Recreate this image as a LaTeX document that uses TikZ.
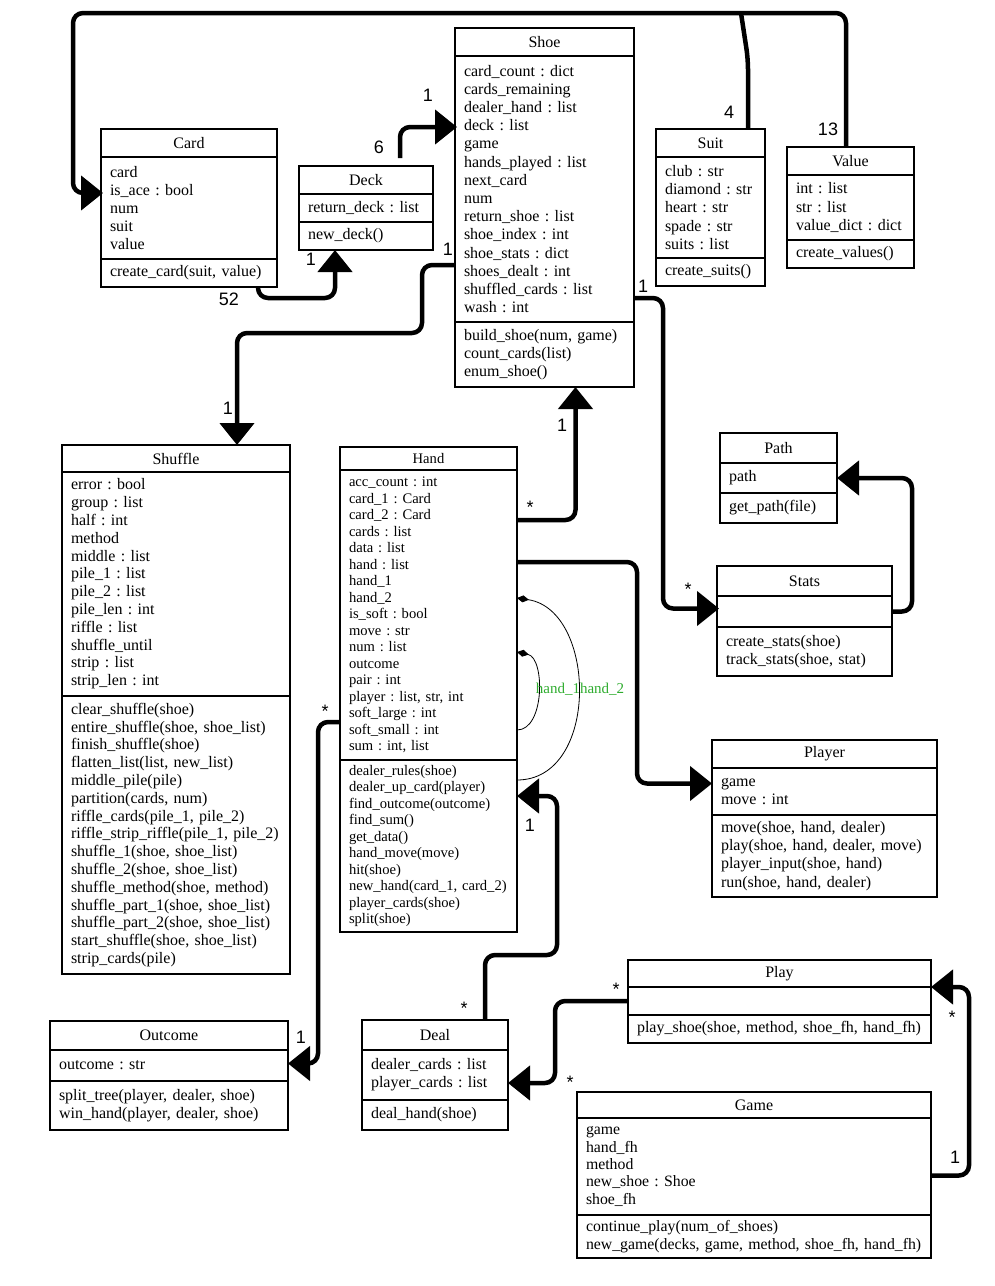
\documentclass[tikz,border=0pt]{standalone}
\usepackage{fontspec}
\setmainfont{Liberation Serif}
\newfontfamily\multfont{Liberation Sans}
\usetikzlibrary{arrows.meta,positioning,calc}
\definecolor{labelgreen}{RGB}{46,172,46}
\frenchspacing

\begin{document}
\begin{tikzpicture}[x=1pt, y=-1pt,
  clsbox/.style={draw, line width=1.2pt, outer sep=0pt, inner xsep=9pt, inner ysep=0pt,
                 font=\fontsize{16}{18.2}\selectfont},
  ctitle/.style={clsbox, align=center, minimum height=28pt},
  cpart/.style={clsbox, align=left},
  handfont/.style={font=\fontsize{14.6}{16.5}\selectfont},
  assoc/.style={line width=4.5pt, rounded corners=10pt, line join=round,
                -{Triangle[length=22pt, width=34pt]}},
  plainlink/.style={line width=4.5pt, rounded corners=10pt, line join=round},
  comp/.style={line width=0.8pt, {Diamond[length=12pt, width=7pt]}-},
  mult/.style={font=\multfont\fontsize{18}{18}\selectfont, inner sep=0pt}
]
\useasboundingbox (0,0) rectangle (994,1286);

%% Card, Deck, Shoe, Suit, Value
\node[ctitle, anchor=north west, text width=158pt] (card) at (101,129) {Card};
\node[cpart, below=0pt of card, text width=158pt, minimum height=102pt] (cardatt)
  {card\\is\_ace : bool\\num\\suit\\value};
\node[cpart, below=0pt of cardatt, text width=158pt, minimum height=28pt] (cardops)
  {create\_card(suit, value)};

\node[ctitle, anchor=north west, text width=116pt] (deck) at (299,166) {Deck};
\node[cpart, below=0pt of deck, text width=116pt, minimum height=28pt] (deckatt)
  {return\_deck : list};
\node[cpart, below=0pt of deckatt, text width=116pt, minimum height=28pt] (deckops)
  {new\_deck()};

\node[ctitle, anchor=north west, text width=161pt] (shoe) at (455,28) {Shoe};
\node[cpart, below=0pt of shoe, text width=161pt, minimum height=266pt] (shoeatt)
  {card\_count : dict\\cards\_remaining\\dealer\_hand : list\\deck : list\\game\\
   hands\_played : list\\next\_card\\num\\return\_shoe : list\\shoe\_index : int\\
   shoe\_stats : dict\\shoes\_dealt : int\\shuffled\_cards : list\\wash : int};
\node[cpart, below=0pt of shoeatt, text width=161pt, minimum height=65pt] (shoeops)
  {build\_shoe(num, game)\\count\_cards(list)\\enum\_shoe()};

\node[ctitle, anchor=north west, text width=91pt] (suit) at (656,129) {Suit};
\node[cpart, below=0pt of suit, text width=91pt, minimum height=101pt] (suitatt)
  {club : str\\diamond : str\\heart : str\\spade : str\\suits : list};
\node[cpart, below=0pt of suitatt, text width=91pt, minimum height=28pt] (suitops)
  {create\_suits()};

\node[ctitle, anchor=north west, text width=109pt] (value) at (787,147) {Value};
\node[cpart, below=0pt of value, text width=109pt, minimum height=65pt] (valueatt)
  {int : list\\str : list\\value\_dict : dict};
\node[cpart, below=0pt of valueatt, text width=109pt, minimum height=28pt] (valueops)
  {create\_values()};

%% Shuffle and Hand
\node[ctitle, anchor=north west, text width=210pt, minimum height=27pt] (shuffle) at (62,445) {Shuffle};
\node[cpart, below=0pt of shuffle, text width=210pt, minimum height=224pt,
      font=\fontsize{16}{17.8}\selectfont] (shuffleatt)
  {error : bool\\group : list\\half : int\\method\\middle : list\\pile\_1 : list\\
   pile\_2 : list\\pile\_len : int\\riffle : list\\shuffle\_until\\strip : list\\strip\_len : int};
\node[cpart, below=0pt of shuffleatt, text width=210pt, minimum height=278pt,
      font=\fontsize{16}{17.8}\selectfont] (shuffleops)
  {clear\_shuffle(shoe)\\entire\_shuffle(shoe, shoe\_list)\\finish\_shuffle(shoe)\\
   flatten\_list(list, new\_list)\\middle\_pile(pile)\\partition(cards, num)\\
   riffle\_cards(pile\_1, pile\_2)\\riffle\_strip\_riffle(pile\_1, pile\_2)\\
   shuffle\_1(shoe, shoe\_list)\\shuffle\_2(shoe, shoe\_list)\\shuffle\_method(shoe, method)\\
   shuffle\_part\_1(shoe, shoe\_list)\\shuffle\_part\_2(shoe, shoe\_list)\\
   start\_shuffle(shoe, shoe\_list)\\strip\_cards(pile)};

\node[ctitle, handfont, anchor=north west, text width=159pt, minimum height=23pt] (hand) at (340,447) {Hand};
\node[cpart, handfont, below=0pt of hand, text width=159pt, minimum height=290pt] (handatt)
  {acc\_count : int\\card\_1 : Card\\card\_2 : Card\\cards : list\\data : list\\hand : list\\
   hand\_1\\hand\_2\\is\_soft : bool\\move : str\\num : list\\outcome\\pair : int\\
   player : list, str, int\\soft\_large : int\\soft\_small : int\\sum : int, list};
\node[cpart, handfont, below=0pt of handatt, text width=159pt, minimum height=172pt] (handops)
  {dealer\_rules(shoe)\\dealer\_up\_card(player)\\find\_outcome(outcome)\\find\_sum()\\
   get\_data()\\hand\_move(move)\\hit(shoe)\\new\_hand(card\_1, card\_2)\\
   player\_cards(shoe)\\split(shoe)};

%% Path, Stats, Player
\node[ctitle, anchor=north west, text width=99pt, minimum height=30pt] (path) at (720,433) {Path};
\node[cpart, below=0pt of path, text width=99pt, minimum height=30pt] (pathatt) {path};
\node[cpart, below=0pt of pathatt, text width=99pt, minimum height=30pt] (pathops) {get\_path(file)};

\node[ctitle, anchor=north west, text width=157pt, minimum height=30pt] (stats) at (717,566) {Stats};
\node[cpart, below=0pt of stats, text width=157pt, minimum height=31pt] (statsatt) {};
\node[cpart, below=0pt of statsatt, text width=157pt, minimum height=49pt] (statsops)
  {create\_stats(shoe)\\track\_stats(shoe, stat)};

\node[ctitle, anchor=north west, text width=207pt] (player) at (712,740) {Player};
\node[cpart, below=0pt of player, text width=207pt, minimum height=47pt] (playeratt)
  {game\\move : int};
\node[cpart, below=0pt of playeratt, text width=207pt, minimum height=82pt] (playerops)
  {move(shoe, hand, dealer)\\play(shoe, hand, dealer, move)\\player\_input(shoe, hand)\\
   run(shoe, hand, dealer)};

%% Outcome, Deal, Play, Game
\node[ctitle, anchor=north west, text width=220pt, minimum height=29pt] (outcome) at (50,1021) {Outcome};
\node[cpart, below=0pt of outcome, text width=220pt, minimum height=31pt] (outcomeatt)
  {outcome : str};
\node[cpart, below=0pt of outcomeatt, text width=220pt, minimum height=49pt] (outcomeops)
  {split\_tree(player, dealer, shoe)\\win\_hand(player, dealer, shoe)};

\node[ctitle, anchor=north west, text width=128pt, minimum height=30pt] (deal) at (362,1020) {Deal};
\node[cpart, below=0pt of deal, text width=128pt, minimum height=50pt] (dealatt)
  {dealer\_cards : list\\player\_cards : list};
\node[cpart, below=0pt of dealatt, text width=128pt, minimum height=30pt] (dealops)
  {deal\_hand(shoe)};

\node[ctitle, anchor=north west, text width=285pt, minimum height=27pt] (play) at (628,960) {Play};
\node[cpart, below=0pt of play, text width=285pt, minimum height=28pt] (playatt) {};
\node[cpart, below=0pt of playatt, text width=285pt, minimum height=28pt] (playops)
  {play\_shoe(shoe, method, shoe\_fh, hand\_fh)};

\node[ctitle, anchor=north west, text width=336pt, minimum height=26pt] (game) at (577,1092) {Game};
\node[cpart, below=0pt of game, text width=336pt, minimum height=97pt,
      font=\fontsize{15.8}{17.3}\selectfont] (gameatt)
  {game\\hand\_fh\\method\\new\_shoe : Shoe\\shoe\_fh};
\node[cpart, below=0pt of gameatt, text width=336pt, minimum height=43pt,
      font=\fontsize{15.8}{17.3}\selectfont] (gameops)
  {continue\_play(num\_of\_shoes)\\new\_game(decks, game, method, shoe\_fh, hand\_fh)};

%% Suit and Value into Card, over the top
\coordinate (topjoin) at (741,13);
\draw[plainlink] ($(suit.north west)+(92,0)$) -- ++(0,-70) -- (topjoin);
\draw[assoc] ($(value.north west)+(59,0)$) |- (topjoin) -| ($(cardatt.west)+(-28,-15)$)
  -- ($(cardatt.west)+(2,-15)$);

%% Deck, Card, Shuffle links round Shoe
\draw[assoc] ($(deck.north)+(34,-8)$) |- ($(shoeatt.north west)+(2,71)$);
\draw[assoc] ($(cardops.south west)+(157,0)$) |- ($(deckops.south west)+(36,48)$)
  -- ($(deckops.south west)+(36,0)$);
\draw[assoc] ($(shoeatt.north west)+(0,209)$) -| (422,333) -| ($(shuffle.north)+(61,0)$);
\draw[assoc] ($(shoeatt.north east)+(0,242)$) -| ($(statsatt.west)+(-54,-3)$)
  -- ($(statsatt.west)+(2,-3)$);
\draw[assoc] (statsatt.east) -| ($(pathatt.east)+(75,0)$) -- (pathatt.east);

%% Hand links
\draw[assoc] ($(handatt.north east)+(0,50)$) -| ($(shoeops.south)+(31,0)$);
\draw[assoc] ($(handatt.north east)+(0,92)$) -| ($(playeratt.west)+(-75,-8)$)
  -- ($(playeratt.west)+(0,-8)$);
\draw[comp] ($(handatt.north east)+(0,128)$) .. controls +(80,12) and +(83,0) ..
  ($(handops.north east)+(0,20)$);
\draw[comp] ($(handatt.north east)+(0,182)$) .. controls +(28,6) and +(28,0) ..
  ($(handatt.north east)+(0,260)$);
\node[text=labelgreen, font=\fontsize{15}{15}\selectfont, inner sep=0pt] (handself) at (580,689)
  {hand\_1hand\_2};
\draw[assoc] ($(deal.north)+(50,0)$) |- (557,955) |- ($(handops.north east)+(0,36)$);
\draw[assoc] ($(handatt.north west)+(0,252)$) -| ($(outcomeatt.east)+(30,-2)$)
  -- ($(outcomeatt.east)+(0,-2)$);

%% Play and Game links
\draw[assoc] (playatt.west) -| ($(dealatt.east)+(47,8)$) -- ($(dealatt.east)+(0,8)$);
\draw[assoc] ($(gameatt.east)+(0,9)$) -| ($(playatt.north east)+(38,0)$) -- (playatt.north east);

%% Multiplicities
\node[mult] (m4)  at (729,112) {4};
\node[mult] (m13) at (828,129) {13};
\node[mult] (m6)  at (379,147) {6};
\node[mult] (m1a) at (428,95)  {1};
\node[mult] (m52) at (229,299) {52};
\node[mult] (m1b) at (311,259) {1};
\node[mult] (m1c) at (448,249) {1};
\node[mult] (m1d) at (228,408) {1};
\node[mult] (m1e) at (643,286) {1};
\node[mult] (ms1) at (688,589) {*};
\node[mult] (ms2) at (530,507) {*};
\node[mult] (m1f) at (562,425) {1};
\node[mult] (ms3) at (325,711) {*};
\node[mult] (m1g) at (301,1037) {1};
\node[mult] (ms4) at (464,1008) {*};
\node[mult] (m1h) at (530,825) {1};
\node[mult] (ms5) at (616,989) {*};
\node[mult] (ms6) at (570,1082) {*};
\node[mult] (ms7) at (952,1017) {*};
\node[mult] (m1i) at (955,1157) {1};

\end{tikzpicture}
\end{document}
